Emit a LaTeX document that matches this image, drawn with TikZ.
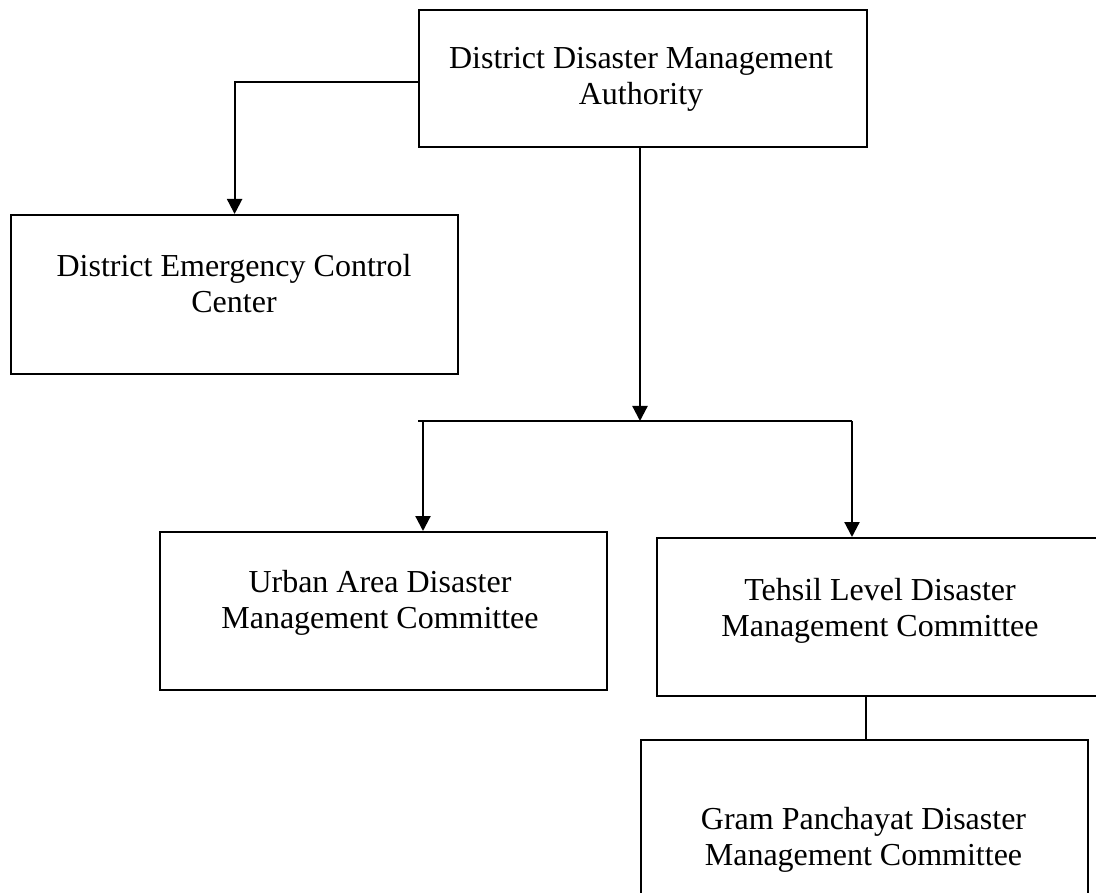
\documentclass[tikz,border=0pt]{standalone}
\usepackage{fontspec}
\setmainfont{Liberation Serif}
\usetikzlibrary{arrows.meta}
\begin{document}
\begin{tikzpicture}[x=1pt,y=-1pt,
  box/.style={draw, line width=2.2pt, rectangle, inner sep=0pt, anchor=north west},
  lbl/.style={align=center, inner sep=0pt, anchor=base, font=\fontsize{32}{36}\selectfont},
  link/.style={line width=2.2pt},
  arrowlink/.style={line width=2.2pt, -{Triangle[width=15pt,length=15pt]}}]
\useasboundingbox (0,0) rectangle (1096,893);
\clip (0,0) rectangle (1096,893);

% boxes
\node[box, minimum width=448pt, minimum height=137pt] (ddma) at (418,9) {};
\node[box, minimum width=447pt, minimum height=159pt] (decc) at (10,214) {};
\node[box, minimum width=447pt, minimum height=158pt] (uadmc) at (159,531) {};
\node[box, minimum width=448pt, minimum height=158pt] (tldmc) at (656,537) {};
\node[box, minimum width=447pt, minimum height=180pt] (gpdmc) at (640,739) {};

% labels (anchored on the baseline of the last line)
\node[lbl] (ddma-t) at (641,105) {District Disaster Management\\Authority};
\node[lbl] (decc-t) at (234,313) {District Emergency Control\\Center};
\node[lbl] (uadmc-t) at (380,628) {Urban Area Disaster\\Management Committee};
\node[lbl] (tldmc-t) at (880,636) {Tehsil Level Disaster\\Management Committee};
\node[lbl] (gpdmc-t) at (863.5,865) {Gram Panchayat Disaster\\Management Committee};

% connectors
\coordinate (side) at (418,82);
\coordinate (split) at (640,421);
\coordinate (busL) at (418,421);
\coordinate (dropL) at (423,421);
\coordinate (dropR) at (852,421);
\coordinate (link) at (866,695);

\draw[arrowlink] (side) -| (decc.north);
\draw[arrowlink] (ddma.south -| split) -- (split);
\draw[link] (busL) -- (dropR);
\draw[arrowlink] (dropL) -- (dropL |- uadmc.north);
\draw[arrowlink] (dropR) -- (dropR |- tldmc.north);
\draw[link] (link) -- (link |- gpdmc.north);
\end{tikzpicture}
\end{document}
